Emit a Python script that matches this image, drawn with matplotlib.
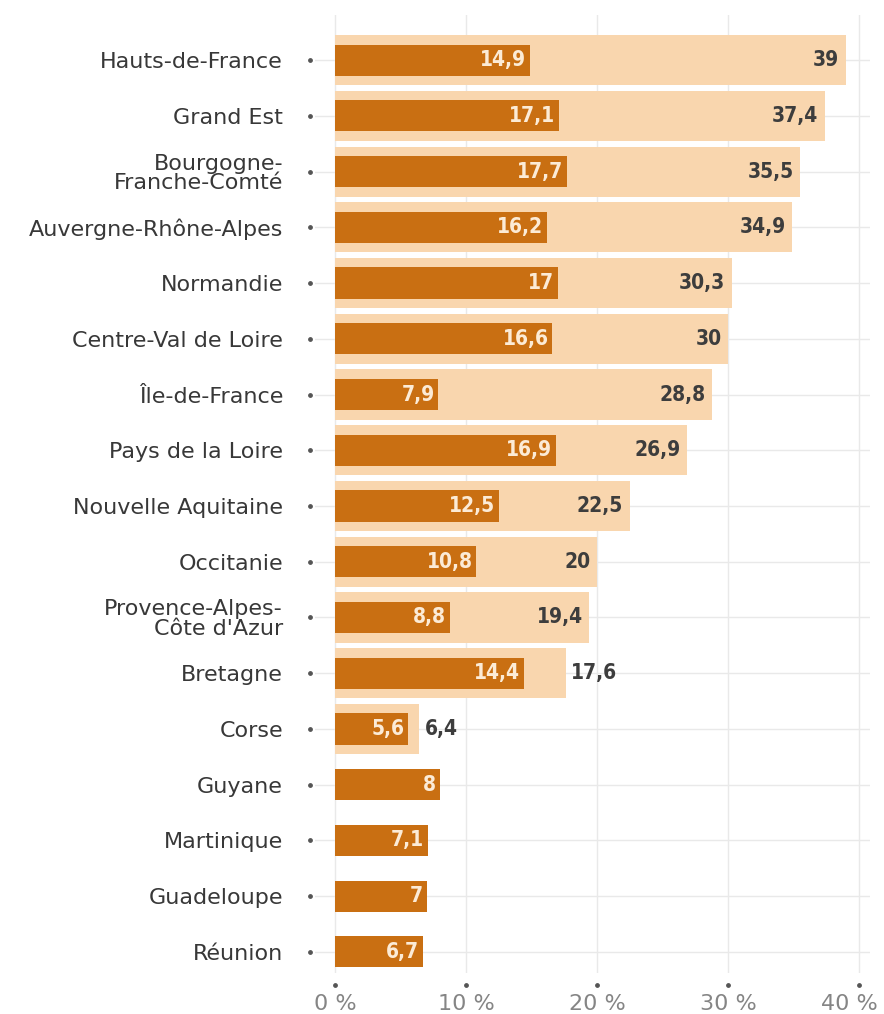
import matplotlib
matplotlib.use('Agg')
import matplotlib.pyplot as plt
import matplotlib.transforms as mtransforms

# Data: share (%) per region, dark = subset, light = total
regions = ["Hauts-de-France", "Grand Est", "Bourgogne-\nFranche-Comté", "Auvergne-Rhône-Alpes",
           "Normandie", "Centre-Val de Loire", "Île-de-France", "Pays de la Loire",
           "Nouvelle Aquitaine", "Occitanie", "Provence-Alpes-\nCôte d'Azur", "Bretagne",
           "Corse", "Guyane", "Martinique", "Guadeloupe", "Réunion"]
dark_values = [14.9, 17.1, 17.7, 16.2, 17, 16.6, 7.9, 16.9, 12.5, 10.8, 8.8, 14.4, 5.6, 8, 7.1, 7, 6.7]
light_values = [39, 37.4, 35.5, 34.9, 30.3, 30, 28.8, 26.9, 22.5, 20, 19.4, 17.6, 6.4,
                None, None, None, None]
x_ticks = [0, 10, 20, 30, 40]
x_tick_labels = ["0 %", "10 %", "20 %", "30 %", "40 %"]

DARK = "#c96f12"
LIGHT = "#f9d6ae"
GRID = "#e9e9e9"


def fmt(v):
    return f"{v:g}".replace(".", ",")


fig = plt.figure(figsize=(8.84, 10.14), dpi=100)
ax = fig.add_axes([0.3563, 0.0404, 0.6278, 0.9448])

ypos = list(range(len(regions)))

# light (total) bars
for y, v in zip(ypos, light_values):
    if v is None:
        continue
    ax.barh(y, v, height=0.9, color=LIGHT, zorder=2)

# dark bars
ax.barh(ypos, dark_values, height=0.56, color=DARK, zorder=3)

# value labels
lab = dict(va='center', fontsize=15, fontweight='bold', fontstretch='condensed',
           family='DejaVu Sans', zorder=4)
for y, d, l in zip(ypos, dark_values, light_values):
    ax.text(d - 0.3, y, fmt(d), ha='right', color='#fcebd6', **lab)
    if l is None:
        continue
    if l - d > 5:
        ax.text(l - 0.5, y, fmt(l), ha='right', color='#3d3d3d', **lab)
    else:
        # not enough room inside the light bar -> put it after
        ax.text(l + 0.45, y, fmt(l), ha='left', color='#3d3d3d', **lab)

ax.set_xlim(-1.53, 40.84)
ax.set_ylim(16.38, -0.81)

ax.set_yticks(ypos)
ax.set_yticklabels(regions, fontsize=16, color='#383838', family='DejaVu Sans', linespacing=0.95)
ax.set_xticks(x_ticks)
ax.set_xticklabels(x_tick_labels, fontsize=16, color='#858585', family='DejaVu Sans')
ax.tick_params(axis='y', length=0, pad=23)
ax.tick_params(axis='x', length=0, pad=15)

# last x label pushed a bit left so it stays inside the picture
last = ax.get_xticklabels()[-1]
last.set_transform(last.get_transform() + mtransforms.ScaledTranslation(-0.1, 0, fig.dpi_scale_trans))

ax.grid(True, color=GRID, linewidth=1, zorder=0)
ax.set_axisbelow(True)
for s in ax.spines.values():
    s.set_visible(False)

# small dots used as tick marks
tx = mtransforms.offset_copy(ax.get_xaxis_transform(), fig=fig, y=-12, units='dots')
ax.scatter(x_ticks, [0] * len(x_ticks), s=6, color='#555555', transform=tx, clip_on=False, zorder=5)
ty = mtransforms.offset_copy(ax.get_yaxis_transform(), fig=fig, x=-5, units='dots')
ax.scatter([0] * len(ypos), ypos, s=6, color='#555555', transform=ty, clip_on=False, zorder=5)

fig.savefig('out.png', dpi=100)
